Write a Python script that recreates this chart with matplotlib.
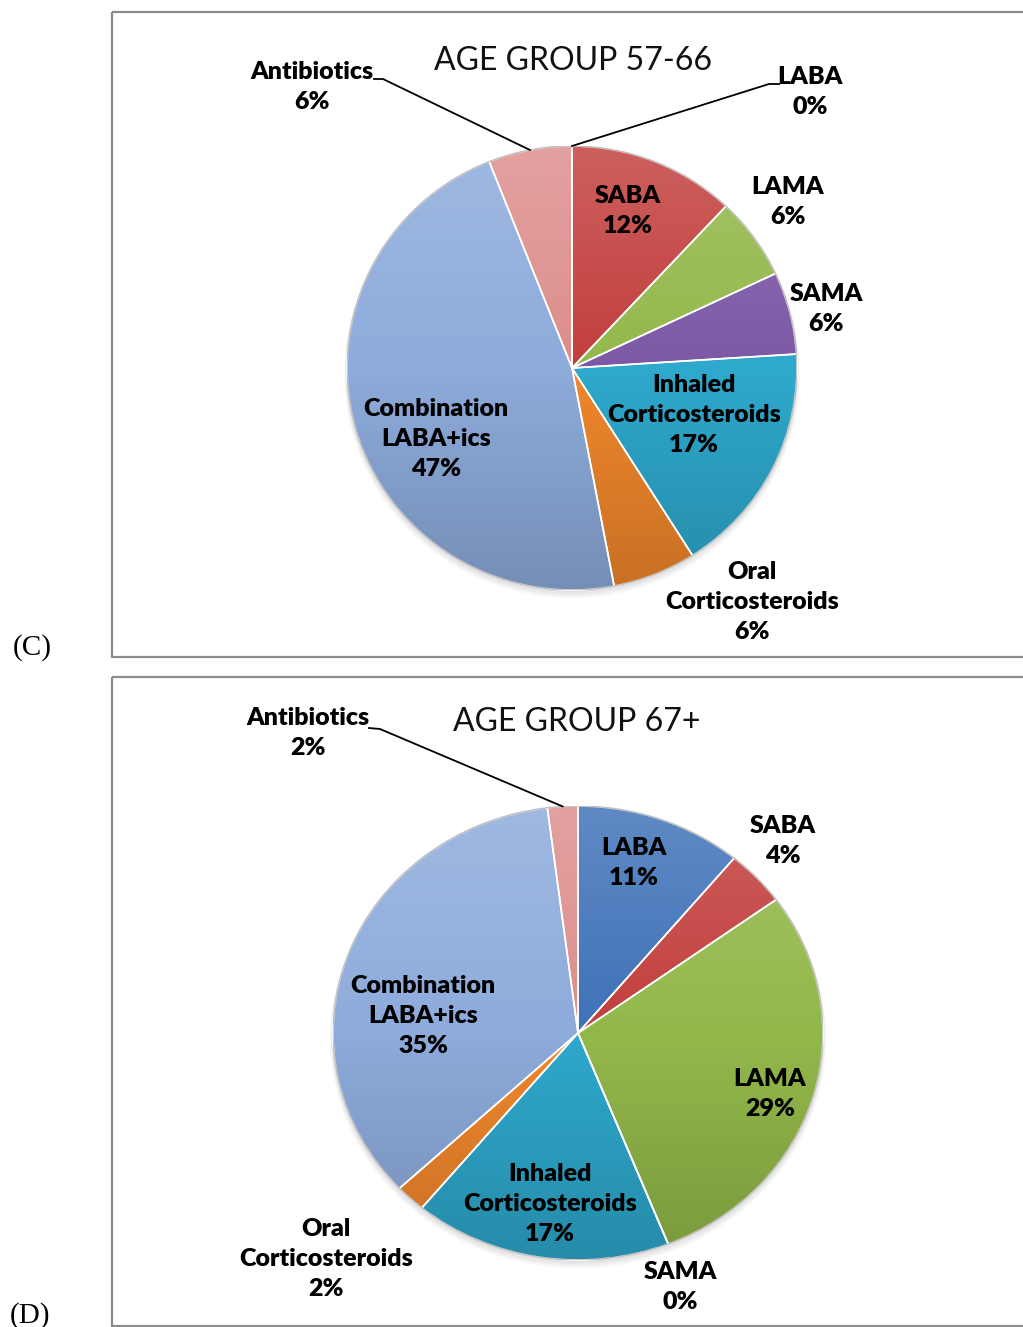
import numpy as np
import matplotlib.pyplot as plt
from matplotlib.patches import Circle, Rectangle

W, H = 1023, 1327

# drug classes, clockwise from 12 o'clock
drugs = ['LABA', 'SABA', 'LAMA', 'SAMA', 'Inhaled\nCorticosteroids',
         'Oral\nCorticosteroids', 'Combination\nLABA+ics', 'Antibiotics']
share_57_66 = [0, 12, 6, 6, 17, 6, 47, 6]
share_67 = [11, 4, 29, 0, 17, 2, 35, 2]
titles = ['AGE GROUP 57-66', 'AGE GROUP 67+']
panel_tags = ['(C)', '(D)']

colors = ['#3f72b8', '#c23f3d', '#93b84a', '#7c58a6',
          '#2ea8cc', '#f0872c', '#8dabdb', '#dd8e8c']

label_font = ['Lato', 'DejaVu Sans']

# layout in pixels: pie centre / radii, box, title, label centres
panels = [
    dict(pie=(572, 368, 225, 222), box=(112, 12, 657), title=(573, 61),
         tag=(32, 648),
         labels=[(810, 92), (628, 211), (788, 202), (826, 309), (694, 415),
                 (752, 602), (436, 439), (312, 87)],
         leaders={0: [(779, 84), (769, 84)], 7: [(374, 79), (383, 79)]}),
    dict(pie=(578, 1033, 245, 227), box=(112, 677, 1326), title=(577, 722),
         tag=(30, 1316),
         labels=[(634, 863), (783, 841), (770, 1094), (680, 1287), (550, 1204),
                 (326, 1259), (423, 1016), (308, 733)],
         leaders={7: [(369, 728), (380, 729)]}),
]

fig = plt.figure(figsize=(W / 100, H / 100), dpi=100)

# vertical light-to-dark shading laid over each pie
shade = np.zeros((256, 1, 4))
t = np.linspace(0, 1, 256)            # 0 = bottom, 1 = top
shade[:, 0, :3] = (t > 0.5)[:, None] * 1.0
shade[:, 0, 3] = np.abs(t - 0.5) * 0.34

for p, values in zip(panels, [share_57_66, share_67]):
    cx, cy, rx, ry = p['pie']
    ax = fig.add_axes([(cx - rx) / W, (H - cy - ry) / H, 2 * rx / W, 2 * ry / H])

    # soft shadow under the pie
    for k in range(5):
        ax.add_patch(Circle((0.0, -0.006 * k), 1.0 + 0.003 * k, color='black',
                            alpha=0.03, zorder=0, clip_on=False, linewidth=0))

    ax.pie(values, colors=colors, startangle=90, counterclock=False,
           radius=1, wedgeprops=dict(linewidth=0, zorder=1))
    im = ax.imshow(shade, extent=(-1, 1, -1, 1), origin='lower',
                   aspect='auto', zorder=2, interpolation='bilinear')
    rim = Circle((0, 0), 1, transform=ax.transData)
    im.set_clip_path(rim)
    ax.pie(values, startangle=90, counterclock=False, radius=1,
           wedgeprops=dict(facecolor='none', edgecolor='white',
                           linewidth=1.2, zorder=3))
    ax.add_patch(Circle((0, 0), 1, facecolor='none',
                        edgecolor=(0, 0, 0, 0.25), linewidth=1, zorder=4))
    ax.set_xlim(-1, 1)
    ax.set_ylim(-1, 1)
    ax.set_aspect('auto')
    ax.axis('off')

# overlay in pixel coordinates for boxes, text and leader lines
ov = fig.add_axes([0, 0, 1, 1])
ov.set_xlim(0, W)
ov.set_ylim(H, 0)
ov.axis('off')

for p, values, title, tag in zip(panels, [share_57_66, share_67], titles, panel_tags):
    x0, y0, y1 = p['box']
    ov.add_patch(Rectangle((x0, y0), W + 20 - x0, y1 - y0, facecolor='none',
                           edgecolor='#8c8c8c', linewidth=1.6))
    ov.text(*p['title'], title, ha='center', va='center', fontsize=23,
            family=label_font, color='#111111')
    ov.text(*p['tag'], tag, ha='center', va='center', fontsize=21,
            family=['Liberation Serif', 'DejaVu Serif'])

    cx, cy, rx, ry = p['pie']
    cum = np.cumsum(values)
    for i, (name, v) in enumerate(zip(drugs, values)):
        lx, ly = p['labels'][i]
        ov.text(lx, ly, f'{name}\n{v}%', ha='center', va='center',
                fontsize=18, fontweight='heavy', family=label_font,
                linespacing=1.45, color='black')
        if i in p['leaders']:
            mid = np.radians(90 - 360 * (cum[i] - v / 2) / 100)
            pts = p['leaders'][i] + [(cx + rx * np.cos(mid), cy - ry * np.sin(mid))]
            xs, ys = zip(*pts)
            ov.plot(xs, ys, color='black', linewidth=1.3)

fig.savefig('out.png', dpi=100)
